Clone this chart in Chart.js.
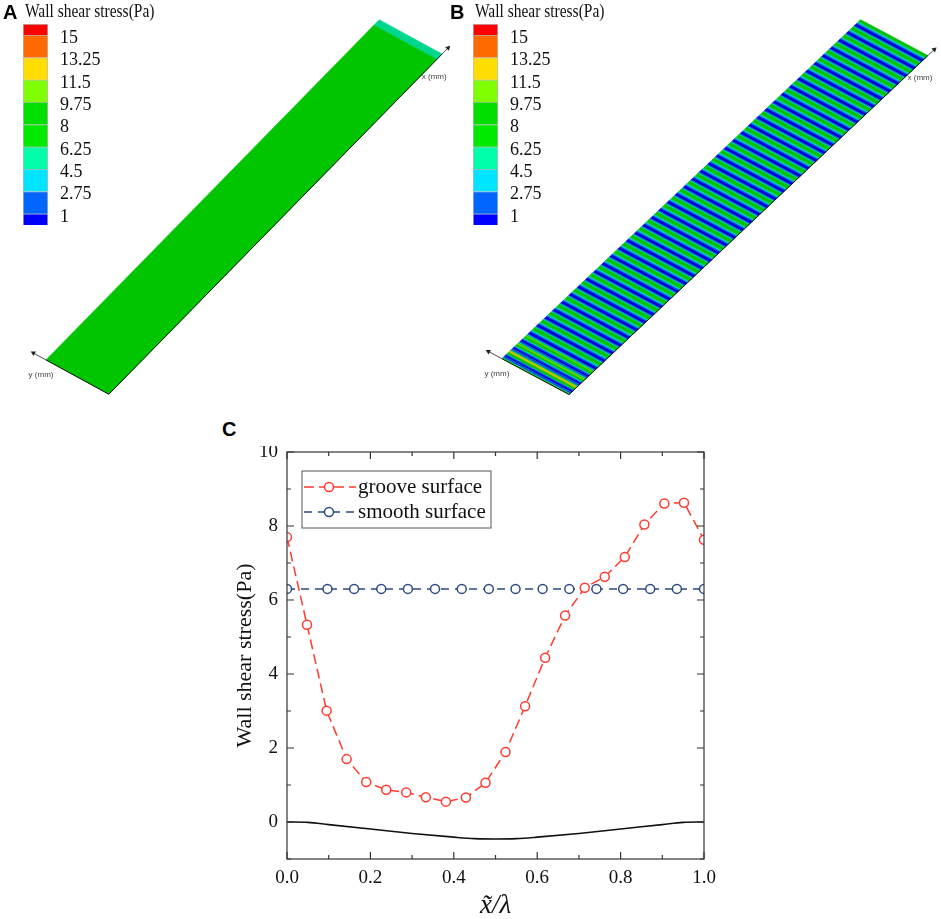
<!DOCTYPE html>
<html>
<head>
<meta charset="utf-8">
<script src="https://cdn.jsdelivr.net/npm/chart.js@4.4.1/dist/chart.umd.min.js"></script>
<style>
  body { margin: 0; background: #fff; }
  #wrap { position: relative; width: 941px; height: 919px; overflow: hidden;
          font-family: 'Times New Roman', 'Liberation Serif', serif; color: #111; }
  canvas { position: absolute; }
  .letter { position: absolute; font: bold 20px Arial, 'Liberation Sans', sans-serif; color: #000; }
  .cbtitle { position: absolute; font-size: 18px; white-space: nowrap;
             transform: scaleX(0.86); transform-origin: left top; }
</style>
</head>
<body>
<div id="wrap">
  <canvas id="plateA" width="470" height="410" style="left:0;top:0"></canvas>
  <canvas id="plateB" width="471" height="410" style="left:470px;top:0"></canvas>
  <canvas id="barA" width="125" height="212" style="left:23px;top:20px"></canvas>
  <canvas id="barB" width="125" height="212" style="left:473px;top:20px"></canvas>
  <canvas id="lineC" width="500" height="473" style="left:220px;top:446px"></canvas>
  <div class="letter" style="left:3px;top:1px">A</div>
  <div class="letter" style="left:450px;top:1px">B</div>
  <div class="letter" style="left:222px;top:418px">C</div>
  <div class="cbtitle" style="left:25px;top:1px">Wall shear stress(Pa)</div>
  <div class="cbtitle" style="left:475px;top:1px">Wall shear stress(Pa)</div>
</div>

<script>
// ---- colour bar (contour levels, Pa) ----
var levels = [1, 2.75, 4.5, 6.25, 8, 9.75, 11.5, 13.25, 15];
var levelLabels = ['1', '2.75', '4.5', '6.25', '8', '9.75', '11.5', '13.25', '15'];
var levelColors = ['#0000ff', '#0066ff', '#00e5ff', '#00ffaa', '#00ea00',
                   '#00e000', '#80ff00', '#ffdd00', '#ff6a00', '#ff0000'];

// ---- panel C: wall shear stress over one groove wavelength ----
var grooveX = [0, 0.048, 0.095, 0.143, 0.190, 0.238, 0.286, 0.333, 0.381, 0.429, 0.476,
               0.524, 0.571, 0.619, 0.667, 0.714, 0.762, 0.810, 0.857, 0.905, 0.952, 1.0];
var grooveY = [7.70, 5.33, 3.01, 1.70, 1.08, 0.87, 0.80, 0.67, 0.55, 0.66, 1.06,
               1.89, 3.13, 4.44, 5.58, 6.33, 6.63, 7.16, 8.04, 8.61, 8.63, 7.63];
var smoothX = [0, 0.097, 0.161, 0.226, 0.290, 0.355, 0.419, 0.484,
               0.548, 0.613, 0.677, 0.742, 0.806, 0.871, 0.935, 1.0];
var smoothY = [6.3, 6.3, 6.3, 6.3, 6.3, 6.3, 6.3, 6.3,
               6.3, 6.3, 6.3, 6.3, 6.3, 6.3, 6.3, 6.3];
// groove wall profile (drawn in black under the curves)
var wallX = [0, 0.05, 0.1, 0.2, 0.3, 0.4, 0.45, 0.5, 0.55, 0.6, 0.7, 0.8, 0.9, 0.95, 1.0];
var wallY = [0, -0.01, -0.07, -0.19, -0.31, -0.41, -0.45, -0.46, -0.45, -0.41, -0.31, -0.19, -0.07, -0.01, 0];
var xTicks = [0, 0.2, 0.4, 0.6, 0.8, 1.0];
var yTicks = [0, 2, 4, 6, 8, 10];

// ---- panels A / B: plate contours ----
var grooveCount = 44;              // grooves along plate B
var inletGain = [1.45, 1.3, 1.15]; // higher stress on first grooves at the inlet
var outletStartA = 0.984;          // outlet strip on smooth plate
var outletValueA = 5.4;

var serif = "'Times New Roman', 'Liberation Serif', serif";
var RED = '#ff3b2f', BLUE = '#2b4a80';

function levelIndex(v) {
  var k = 0;
  while (k < levels.length && v >= levels[k]) k++;
  return k;
}
function shade(hex, f) {
  var n = parseInt(hex.slice(1), 16);
  var r = Math.round((n >> 16 & 255) * f), g = Math.round((n >> 8 & 255) * f), b = Math.round((n & 255) * f);
  return 'rgb(' + r + ',' + g + ',' + b + ')';
}

// oblique view of the plate: origin corner, along-flow vector u, spanwise vector v
var viewA = { ox: 42.7, oy: 363, ux: 339, uy: -347, vx: 64, vy: 35 };
var viewB = { ox: 28.3, oy: 361.7, ux: 365, uy: -345.7, vx: 68.4, vy: 36.6 };

function proj(g, u, v) { return { x: g.ox + u * g.ux + v * g.vx, y: g.oy + u * g.uy + v * g.vy }; }
function quad(g, u0, u1) {
  return [proj(g, u0, 0), proj(g, u1, 0), proj(g, u1, 1), proj(g, u0, 1), proj(g, u0, 0)];
}

function plateDatasets(g, cells) {
  var ds = [];
  // edges + axis arrows on top
  ds.push({ data: [proj(g, 0, 0), proj(g, 0, 1), proj(g, 1, 1)], borderColor: '#111', borderWidth: 1, pointRadius: 0, fill: false });
  var yEnd = proj(g, 0, -0.2), o = proj(g, 0, 0);
  var xEnd = proj(g, 1.018, 1), c = proj(g, 1, 1);
  [[o, yEnd], [c, xEnd]].forEach(function (s) {
    var ang = Math.atan2(s[1].x - s[0].x, -(s[1].y - s[0].y)) * 180 / Math.PI;
    ds.push({ data: s, borderColor: '#222', borderWidth: 0.8, fill: false,
              pointRadius: [0, 3], pointStyle: 'triangle', pointRotation: ang,
              pointBackgroundColor: '#222', pointBorderWidth: 0 });
  });
  cells.forEach(function (c) {
    var col = shade(levelColors[c.k], 0.84);
    ds.push({ data: quad(g, c.u0, c.u1), fill: 'shape', backgroundColor: col,
              borderColor: col, borderWidth: 0.6, pointRadius: 0 });
  });
  return ds;
}

var axisText = {
  id: 'axisText',
  afterDraw: function (chart, args, opts) {
    var ctx = chart.ctx, xs = chart.scales.x, ys = chart.scales.y, g = opts.view;
    var o = proj(g, 0, 0), c = proj(g, 1, 1);
    ctx.save();
    ctx.font = '8px Arial, "Liberation Sans", sans-serif';
    ctx.fillStyle = '#444';
    ctx.textAlign = 'center';
    ctx.textBaseline = 'middle';
    ctx.fillText('y (mm)', xs.getPixelForValue(o.x - 5), ys.getPixelForValue(o.y + 15));
    ctx.fillText('x (mm)', xs.getPixelForValue(c.x - 8), ys.getPixelForValue(c.y + 23));
    ctx.restore();
  }
};

function plateChart(id, g, cells, w) {
  new Chart(document.getElementById(id), {
    type: 'line',
    data: { datasets: plateDatasets(g, cells) },
    options: {
      responsive: false, animation: false, events: [],
      layout: { padding: 0 },
      elements: { line: { tension: 0 } },
      scales: {
        x: { type: 'linear', min: 0, max: w, display: false },
        y: { type: 'linear', min: 0, max: 410, reverse: true, display: false }
      },
      plugins: { legend: { display: false }, tooltip: { enabled: false }, axisText: { view: g } }
    },
    plugins: [axisText]
  });
}

// plate A: smooth surface, uniform stress plus outlet strip
var cellsA = [
  { u0: 0, u1: outletStartA, k: levelIndex(smoothY[0]) },
  { u0: outletStartA, u1: 1, k: levelIndex(outletValueA) }
];
// plate B: groove profile repeated along the plate
var cellsB = [];
var per = grooveY.length - 1;
for (var p = 0; p < grooveCount; p++) {
  var gain = p < inletGain.length ? inletGain[p] : 1;
  for (var i = 0; i < per; i++) {
    var u0 = Math.max(0, (p + (i - 0.5) / per) / grooveCount);
    var u1 = Math.min(1, (p + (i + 0.5) / per) / grooveCount);
    var k = levelIndex(grooveY[i] * gain);
    var last = cellsB[cellsB.length - 1];
    if (last && last.k === k) last.u1 = u1; else cellsB.push({ u0: u0, u1: u1, k: k });
  }
}
cellsB[cellsB.length - 1].u1 = 1;

plateChart('plateA', viewA, cellsA, 470);
plateChart('plateB', viewB, cellsB, 471);

// colour bars as stacked bar
function colorBar(id) {
  var half = (levels[1] - levels[0]) / 2;
  var seg = [levels[0]];
  for (var j = 1; j < levels.length; j++) seg.push(levels[j] - levels[j - 1]);
  seg.push(half);
  new Chart(document.getElementById(id), {
    type: 'bar',
    data: {
      labels: ['wss'],
      datasets: seg.map(function (h, j) {
        return { data: [h], backgroundColor: levelColors[j], borderColor: 'rgba(60,60,60,0.35)',
                 borderWidth: 1, categoryPercentage: 1, barPercentage: 1, stack: 's' };
      })
    },
    options: {
      responsive: false, animation: false, events: [],
      layout: { padding: { top: 4, bottom: 7, left: 0, right: 0 } },
      scales: {
        x: { stacked: true, display: false },
        y: {
          stacked: true, position: 'right',
          min: levels[0] - half, max: levels[levels.length - 1] + half,
          grid: { display: false, drawTicks: false }, border: { display: false },
          afterBuildTicks: function (s) { s.ticks = levels.map(function (v) { return { value: v }; }); },
          afterFit: function (s) { s.width = 100; s.paddingTop = 0; s.paddingBottom = 0; },
          ticks: {
            autoSkip: false, padding: 12, color: '#111', labelOffset: 3,
            font: { family: serif, size: 18 },
            callback: function (v) { return levelLabels[levels.indexOf(v)]; }
          }
        }
      },
      plugins: { legend: { display: false }, tooltip: { enabled: false } }
    }
  });
}
colorBar('barA');
colorBar('barB');

// ---- panel C ----
function pts(xs, ys) { return xs.map(function (x, j) { return { x: x, y: ys[j] }; }); }

var frameTicks = {
  id: 'frameTicks',
  afterDatasetsDraw: function (chart) {
    var a = chart.chartArea, ctx = chart.ctx, xs = chart.scales.x, ys = chart.scales.y;
    ctx.save();
    ctx.strokeStyle = '#333';
    ctx.lineWidth = 1.2;
    ctx.strokeRect(a.left, a.top, a.right - a.left, a.bottom - a.top);
    ctx.beginPath();
    for (var t = 0; t < xTicks.length; t++) {
      var step = xTicks[1] - xTicks[0];
      [xTicks[t], xTicks[t] + step / 2].forEach(function (v, m) {
        if (v > xs.max + 1e-9) return;
        var px = xs.getPixelForValue(v), len = m ? 4 : 7;
        ctx.moveTo(px, a.bottom); ctx.lineTo(px, a.bottom - len);
        ctx.moveTo(px, a.top); ctx.lineTo(px, a.top + len);
      });
    }
    for (var q = 0; q < yTicks.length; q++) {
      var ystep = yTicks[1] - yTicks[0];
      [yTicks[q], yTicks[q] + ystep / 2, yTicks[q] - ystep / 2].forEach(function (v, m) {
        if (v > ys.max + 1e-9 || v < ys.min - 1e-9) return;
        var py = ys.getPixelForValue(v), len = m ? 4 : 7;
        ctx.moveTo(a.left, py); ctx.lineTo(a.left + len, py);
        ctx.moveTo(a.right, py); ctx.lineTo(a.right - len, py);
      });
    }
    ctx.stroke();
    ctx.restore();
  }
};

var boxLegend = {
  id: 'boxLegend',
  afterDraw: function (chart) {
    var a = chart.chartArea, ctx = chart.ctx;
    var x0 = a.left + 15, y0 = a.top + 19, w = 189, h = 57;
    ctx.save();
    ctx.fillStyle = '#fff';
    ctx.fillRect(x0, y0, w, h);
    ctx.strokeStyle = '#555';
    ctx.lineWidth = 1;
    ctx.strokeRect(x0, y0, w, h);
    [0, 1].forEach(function (j) {
      var ds = chart.data.datasets[j], yy = y0 + 16 + j * 25;
      ctx.strokeStyle = ds.borderColor;
      ctx.lineWidth = ds.borderWidth;
      ctx.setLineDash(ds.borderDash);
      ctx.beginPath(); ctx.moveTo(x0 + 2, yy); ctx.lineTo(x0 + 54, yy); ctx.stroke();
      ctx.setLineDash([]);
      ctx.beginPath(); ctx.arc(x0 + 27, yy, ds.pointRadius, 0, Math.PI * 2);
      ctx.fillStyle = '#fff'; ctx.fill();
      ctx.lineWidth = ds.pointBorderWidth; ctx.stroke();
      ctx.fillStyle = '#111';
      ctx.font = '21px ' + serif;
      ctx.textBaseline = 'middle';
      ctx.fillText(ds.label, x0 + 56, yy);
    });
    ctx.restore();
  }
};

new Chart(document.getElementById('lineC'), {
  type: 'line',
  data: {
    datasets: [
      { label: 'groove surface', data: pts(grooveX, grooveY), borderColor: RED, borderWidth: 1.5,
        borderDash: [10, 5], pointRadius: 4.5, pointBorderWidth: 1.5, pointBorderColor: RED,
        pointBackgroundColor: '#fff', fill: false, tension: 0 },
      { label: 'smooth surface', data: pts(smoothX, smoothY), borderColor: BLUE, borderWidth: 1.5,
        borderDash: [8, 6], pointRadius: 4.5, pointBorderWidth: 1.5, pointBorderColor: BLUE,
        pointBackgroundColor: '#fff', fill: false, tension: 0 },
      { label: 'wall', data: pts(wallX, wallY), borderColor: '#111', borderWidth: 1.6,
        pointRadius: 0, fill: false, cubicInterpolationMode: 'monotone' }
    ]
  },
  options: {
    responsive: false, animation: false, events: [],
    layout: { padding: { top: 4, right: 16, left: 0, bottom: 0 } },
    scales: {
      x: {
        type: 'linear', min: 0, max: 1,
        grid: { display: false, drawTicks: false }, border: { display: false },
        afterBuildTicks: function (s) { s.ticks = xTicks.map(function (v) { return { value: v }; }); },
        afterFit: function (s) { s.height = 60; s.paddingLeft = 0; s.paddingRight = 0; },
        ticks: { padding: 8, color: '#111', font: { family: serif, size: 19 },
                 callback: function (v) { return v.toFixed(1); } },
        title: { display: true, text: 'x\u0303/\u03bb', color: '#111', padding: { top: 0, bottom: 0 },
                 font: { family: serif, size: 27, style: 'italic', lineHeight: 1 } }
      },
      y: {
        type: 'linear', min: -1, max: 10,
        grid: { display: false, drawTicks: false }, border: { display: false },
        afterBuildTicks: function (s) { s.ticks = yTicks.map(function (v) { return { value: v }; }); },
        afterFit: function (s) { s.width = 67; s.paddingTop = 0; s.paddingBottom = 0; },
        ticks: { padding: 9, color: '#111', font: { family: serif, size: 19 } },
        title: { display: true, text: 'Wall shear stress(Pa)', color: '#111', padding: { top: 14, bottom: 0 },
                 font: { family: serif, size: 22, lineHeight: 1 } }
      }
    },
    plugins: { legend: { display: false }, tooltip: { enabled: false } }
  },
  plugins: [frameTicks, boxLegend]
});
</script>
</body>
</html>
